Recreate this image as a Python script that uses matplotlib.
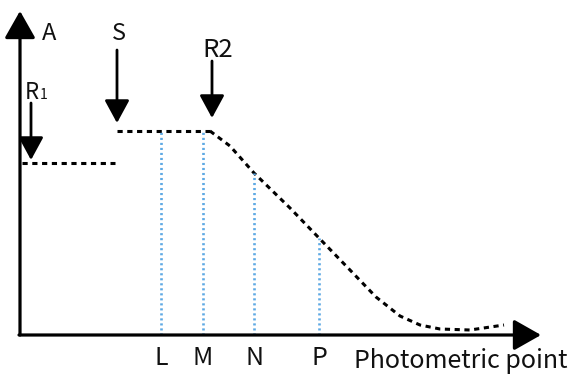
import matplotlib
matplotlib.use("Agg")
import matplotlib.pyplot as plt

plt.rcParams['font.family'] = ['Noto Sans CJK SC', 'DejaVu Sans']

# Absorbance levels (arbitrary units; origin at the axis corner)
r1_x = [2, 95]
r1_level = [172, 172]
s_x = [97, 190]
s_level = [204, 204]

# Absorbance after the R2 addition
curve_x = [190, 210, 234, 270, 299, 330, 356, 380, 400, 420, 450, 484]
curve_a = [204, 189, 162, 127, 97, 65, 38, 19, 10, 6, 5, 10]

# Photometric points
point_labels = ["L", "M", "N", "P"]
point_x = [141, 183, 234, 299]
point_a = [204, 204, 162, 97]

# Reagent / sample addition markers: (label, x, arrow start, arrow end)
marker_labels = ["S", "R2"]
marker_x = [97, 192]
marker_top = [285, 274]
marker_tip = [212, 217]
r1_arrow_x = 11
r1_arrow = (232, 175)

fig = plt.figure(figsize=(5.72, 3.76), dpi=100)
ax = fig.add_axes([0, 0, 1, 1])
ax.set_xlim(-20, 552)
ax.set_ylim(-41, 335)
ax.axis("off")

black = "#000000"
blue = "#5ea9e4"
txt = dict(fontweight="light", color="#111111")

# Axes with arrowheads
axis_arrow = dict(arrowstyle="-|>,head_length=0.6,head_width=0.34",
                  color=black, lw=2.3, mutation_scale=28,
                  shrinkA=0, shrinkB=0)
ax.annotate("", xy=(0, 324), xytext=(0, 0), arrowprops=axis_arrow)
ax.annotate("", xy=(521, 0), xytext=(-1, 0), arrowprops=axis_arrow)

# Dashed absorbance traces
dash_kw = dict(color=black, lw=2.2, dashes=[1.7, 1.5])
ax.plot(r1_x, r1_level, **dash_kw)
ax.plot(s_x, s_level, **dash_kw)
ax.plot(curve_x, curve_a, **dash_kw)

# Dotted photometric point lines and labels
for lab, px, pa in zip(point_labels, point_x, point_a):
    ax.plot([px, px], [0, pa], color=blue, lw=1.9, dashes=[0.8, 1.1])
    ax.text(px, -30, lab, ha="center", va="baseline", fontsize=18, **txt)

ax.text(441, -33, "Photometric point", ha="center", va="baseline",
        fontsize=18, **txt)
ax.text(29, 295, "A", ha="center", va="baseline", fontsize=17, **txt)

# Addition arrows
small_arrow = dict(arrowstyle="-|>,head_length=0.7,head_width=0.38",
                   color=black, lw=2.0, mutation_scale=20,
                   shrinkA=0, shrinkB=0)
for lab, mx, top, tip in zip(marker_labels, marker_x, marker_top, marker_tip):
    ax.annotate("", xy=(mx, tip), xytext=(mx, top), arrowprops=small_arrow)
ax.text(99, 295, "S", ha="center", va="baseline", fontsize=17, **txt)
ax.text(197.5, 278, "R2", ha="center", va="baseline", fontsize=18.5, **txt)

ax.annotate("", xy=(r1_arrow_x, r1_arrow[1]), xytext=(r1_arrow_x, r1_arrow[0]),
            arrowprops=small_arrow)
ax.text(11.5, 236, "R", ha="center", va="baseline", fontsize=16, **txt)
ax.text(23.7, 236, "1", ha="center", va="baseline", fontsize=10, **txt)

fig.savefig("out.png", dpi=100)
